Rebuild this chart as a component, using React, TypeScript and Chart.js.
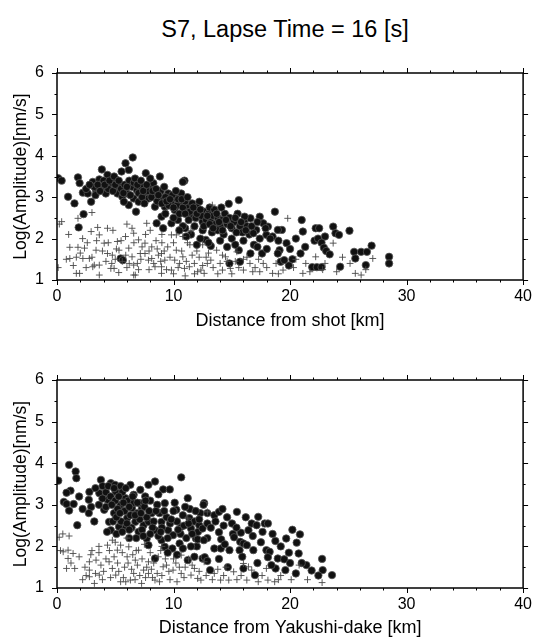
import React, { useEffect, useRef } from "react";
import { Chart, registerables } from "chart.js";

Chart.register(...registerables);

const FONT = "'Liberation Sans', Arial, Helvetica, sans-serif";

const chartTitle = "S7, Lapse Time = 16 [s]";
const yAxisTitle = "Log(Amplitude)[nm/s]";
const topXAxisTitle = "Distance from shot [km]";
const bottomXAxisTitle = "Distance from Yakushi-dake [km]";

const xRange = [0, 40];
const yRange = [1, 6];
const xMajorStep = 10;
const xMinorStep = 2;
const yMajorStep = 1;
const yMinorStep = 0.5;

// Top panel: filled circles [distance km, log amplitude]
const topCircles: [number, number][] = [
  [0.1, 3.46], [0.4, 3.4], [0.95, 3.01], [1.5, 2.85], [1.8, 3.48], [1.94, 3.34], [2.28, 2.59], [1.86, 2.27],
  [2.22, 3.11], [2.64, 3.09], [2.93, 2.89], [3.07, 3.37], [3.35, 3.17], [3.63, 3.43], [3.85, 3.67], [3.91, 3.25],
  [4.19, 3.09], [4.33, 3.54], [4.62, 3.34], [5.04, 3.43], [5.32, 3.25], [5.18, 3.09], [5.54, 3.62], [5.6, 3.01],
  [5.88, 3.82], [6.02, 3.09], [6.16, 3.66], [6.5, 3.96], [6.44, 3.25], [6.58, 2.97], [6.86, 3.17], [7.0, 2.89],
  [6.78, 2.65], [7.26, 3.25], [7.55, 3.09], [7.62, 3.58], [7.85, 2.97], [7.99, 3.29], [8.27, 3.34], [8.41, 3.09],
  [8.41, 2.77], [8.83, 3.5], [9.11, 2.97], [9.25, 2.77], [9.54, 3.09], [9.82, 2.89], [10.1, 2.69], [10.24, 2.97],
  [10.66, 2.85], [10.94, 2.65], [10.94, 3.4], [10.8, 3.37], [10.66, 3.09], [11.22, 2.77], [11.5, 2.53], [11.79, 2.69],
  [12.21, 2.89], [12.21, 2.57], [12.49, 2.41], [12.63, 2.65], [12.77, 1.97], [8.97, 2.53], [8.55, 2.37], [9.11, 2.25],
  [9.82, 2.37], [10.38, 2.45], [6.16, 2.81], [5.74, 2.89], [5.46, 1.52], [5.65, 1.48],
  [3.2, 3.25], [3.5, 3.3], [4.0, 3.4], [4.4, 3.2], [4.8, 3.15], [5.0, 3.3], [5.5, 3.2], [5.8, 3.3],
  [6.2, 3.4], [6.6, 3.35], [7.0, 3.1], [7.3, 3.0], [7.5, 2.85], [7.8, 3.15], [8.1, 3.0], [8.6, 2.9],
  [8.9, 3.15], [9.3, 3.0], [9.6, 2.8], [9.9, 3.05], [10.3, 2.8], [10.5, 2.6], [10.8, 2.75], [11.0, 2.9],
  [11.4, 2.65], [11.6, 2.85], [11.9, 2.5], [12.0, 2.75], [12.4, 2.55], [12.8, 2.45], [13.0, 2.6], [13.2, 2.4],
  [13.4, 2.55], [13.6, 2.35], [13.8, 2.5], [14.0, 2.3], [14.2, 2.45], [14.4, 2.6], [14.6, 2.35], [14.8, 2.5],
  [15.0, 2.25], [15.2, 2.4], [15.5, 2.6], [15.7, 2.3], [15.9, 2.15], [16.1, 2.45], [16.3, 2.3], [16.5, 2.1],
  [13.1, 2.75], [13.5, 2.7], [14.1, 2.75], [12.5, 2.2], [13.3, 2.15], [14.3, 2.1], [13.8, 2.2],
  [11.5, 2.1], [12.0, 1.85], [11.0, 2.25], [16.0, 1.95], [16.9, 1.85], [20.2, 1.5], [19.9, 1.35],
  [14.74, 2.84], [15.6, 2.93], [18.7, 2.65], [21.1, 2.17], [22.2, 2.25], [22.5, 2.25], [23.0, 2.05], [23.7, 2.29],
  [23.9, 2.13], [24.2, 2.09], [25.1, 2.19], [21.3, 1.8], [20.9, 1.64], [22.1, 1.95], [22.4, 2.0], [22.7, 1.9],
  [22.9, 1.78], [23.1, 1.7], [23.4, 1.62], [21.9, 1.31], [22.3, 1.31], [22.7, 1.31], [24.3, 1.32], [25.5, 1.68],
  [26.1, 1.68], [26.6, 1.68], [25.6, 1.52], [26.5, 1.36], [27.0, 1.83], [28.5, 1.56], [28.5, 1.4], [14.8, 1.4],
  [13.2, 1.82], [14.6, 1.8], [15.6, 1.72], [16.6, 1.64], [17.6, 1.64], [15.7, 1.44], [19.2, 1.44], [19.5, 1.48],
  [19.1, 1.72], [19.7, 1.89], [19.3, 2.21], [18.95, 2.21], [18.1, 2.29], [17.7, 2.37], [17.4, 2.53], [16.6, 2.49],
  [16.1, 2.53], [17.1, 2.21], [16.85, 2.13], [17.4, 2.0], [17.97, 2.09], [18.5, 2.05], [18.95, 1.64], [18.3, 2.0],
  [2.5, 3.2], [2.8, 3.3], [3.3, 3.05], [3.7, 3.15], [4.1, 3.3], [4.5, 3.4], [4.9, 3.5], [5.3, 3.4],
  [5.7, 3.1], [6.0, 3.25], [6.3, 3.05], [6.7, 3.45], [6.9, 3.3], [7.2, 3.4], [7.4, 3.15], [7.7, 3.3],
  [8.0, 3.45], [8.2, 3.15], [8.5, 3.2], [8.7, 3.05], [9.0, 2.85], [9.2, 3.25], [9.4, 2.9], [9.7, 2.95],
  [10.0, 2.75], [10.2, 3.15], [10.4, 2.95], [10.7, 2.95], [11.0, 2.6], [11.2, 3.0], [11.3, 2.45], [11.7, 2.75],
  [12.0, 2.6], [12.3, 2.7], [12.6, 2.3], [12.9, 2.55], [13.1, 2.35], [13.4, 2.25], [13.7, 2.6], [13.9, 2.4],
  [14.2, 2.2], [14.5, 2.45], [14.9, 2.3], [15.3, 2.5], [15.4, 2.15], [15.8, 2.4], [16.2, 2.2], [16.7, 2.3],
  [17.2, 2.4], [17.9, 2.25], [9.3, 2.6], [10.0, 2.5], [10.8, 2.3], [11.8, 2.3], [12.3, 2.0], [13.0, 1.9],
  [14.0, 1.95], [15.0, 2.0], [15.3, 1.85], [17.2, 1.8], [18.0, 1.75], [11.1, 2.05], [10.5, 2.2], [20.5, 2.0],
  [21.0, 2.45], [20.0, 1.75], [19.0, 1.95],
];

// Top panel: crosses
const topCrosses: [number, number][] = [
  [0.4, 2.41], [1.8, 2.49], [3.0, 2.63], [2.93, 2.17], [3.49, 2.27], [4.33, 2.25], [3.63, 2.09], [1.1, 1.79],
  [1.8, 1.79], [2.36, 1.77], [1.1, 1.52], [1.66, 1.55], [2.22, 1.52], [2.78, 1.52], [3.07, 1.32], [3.63, 1.36],
  [1.94, 1.16], [3.63, 1.12], [3.35, 1.72], [4.05, 1.89], [4.33, 1.64], [4.75, 1.6], [4.62, 1.28], [5.18, 1.93],
  [5.32, 1.72], [5.88, 2.05], [6.44, 2.25], [6.58, 2.13], [7.0, 1.97], [6.16, 1.77], [6.44, 1.56], [6.58, 1.12],
  [7.15, 1.64], [7.55, 1.89], [7.7, 2.37], [8.13, 1.8], [7.85, 1.48], [8.41, 1.32], [8.97, 1.64], [9.25, 1.48],
  [9.82, 2.09], [10.24, 2.09], [10.8, 2.05], [10.24, 1.72], [10.1, 1.48], [10.8, 1.56], [10.94, 1.28], [11.79, 1.4],
  [12.07, 1.2], [12.63, 1.16], [8.97, 1.16], [1.66, 1.16], [3.2, 1.36], [4.9, 1.28], [6.58, 1.36], [6.72, 1.12],
  [7.55, 1.64], [8.13, 1.52], [8.97, 1.32], [9.82, 1.24], [10.52, 1.4], [11.36, 1.32], [13.33, 2.81], [19.8, 2.49],
  [23.7, 1.89], [21.35, 1.4], [21.1, 1.16], [22.2, 1.56], [25.15, 1.4], [25.6, 1.16], [26.1, 1.12], [27.1, 1.52],
  [19.4, 1.24], [13.7, 1.72], [14.46, 1.56], [15.44, 1.68], [16.56, 1.4], [17.7, 1.4], [17.4, 1.2], [16.0, 1.24],
  [14.88, 1.28], [12.9, 1.4], [12.35, 1.24], [14.2, 1.24], [18.5, 1.16], [13.2, 1.48], [0.2, 2.35],
  [5.6, 1.45], [6.9, 1.4], [7.3, 1.8], [8.5, 1.95], [9.5, 1.8], [11.2, 1.9], [11.6, 1.6], [12.2, 1.55],
  [13.0, 1.65], [5.0, 1.5], [4.2, 1.45], [2.5, 1.3], [9.0, 1.9], [8.7, 1.6], [6.0, 1.3], [5.3, 1.18],
  [7.9, 1.25], [10.0, 1.15], [11.0, 1.1], [20.3, 1.3], [22.8, 1.25], [16.3, 1.55], [15.3, 1.45], [14.0, 1.4],
  [17.0, 1.3],
  [0.1, 1.3], [0.8, 1.5], [1.4, 1.35], [2.0, 1.65], [2.6, 1.9], [3.0, 1.55], [3.4, 1.95], [3.9, 1.7],
  [4.4, 1.9], [4.7, 1.4], [5.1, 1.75], [5.5, 1.95], [5.9, 1.6], [6.2, 1.4], [6.6, 1.9], [7.0, 1.25],
  [7.2, 1.5], [7.6, 2.1], [7.9, 1.7], [8.3, 1.4], [8.6, 1.75], [8.9, 1.45], [9.2, 1.7], [9.4, 1.25],
  [9.7, 1.55], [10.0, 1.9], [10.4, 1.3], [10.7, 1.7], [11.1, 1.45], [11.4, 1.85], [11.8, 1.15], [12.0, 1.7],
  [12.5, 1.35], [12.8, 1.55], [13.4, 1.3], [13.8, 1.15], [14.2, 1.6], [14.6, 1.45], [15.0, 1.15], [15.6, 1.3],
  [16.0, 1.5], [16.8, 1.2], [17.3, 1.5], [18.0, 1.3], [18.8, 1.4], [19.0, 1.15], [20.5, 1.5], [21.7, 1.2],
  [23.0, 1.4], [24.0, 1.2], [24.5, 1.55], [26.5, 1.25], [2.2, 2.0], [1.0, 2.1], [4.8, 2.2], [6.0, 2.35],
  [8.0, 2.2], [9.0, 2.1], [11.5, 2.2], [12.5, 1.85],
];

// Bottom panel: filled circles
const bottomCircles: [number, number][] = [
  [0.11, 3.58], [1.04, 3.96], [1.6, 3.8], [1.66, 3.64], [1.16, 3.34], [0.82, 3.29], [0.59, 3.07], [0.82, 3.02],
  [1.43, 3.02], [1.04, 2.86], [1.74, 2.51], [2.78, 3.31], [2.73, 3.12], [2.93, 2.95], [2.73, 2.8], [3.77, 3.6],
  [3.91, 3.45], [4.62, 3.52], [4.98, 3.48], [5.46, 3.45], [6.3, 3.48], [7.15, 3.36], [7.85, 3.48], [8.41, 3.56],
  [9.11, 3.37], [9.68, 3.37], [10.66, 3.66], [11.22, 3.16], [11.36, 2.68], [12.63, 3.04], [10.24, 2.88], [9.25, 3.04],
  [3.63, 3.28], [4.33, 3.12], [4.05, 2.88], [4.9, 2.8], [4.47, 2.59], [5.32, 2.47], [4.62, 2.39], [5.46, 3.0],
  [5.88, 3.16], [6.44, 2.92], [6.02, 2.68], [6.72, 2.59], [7.28, 2.92], [7.0, 2.35], [7.43, 2.51], [7.85, 2.59],
  [8.13, 2.8], [8.41, 2.39], [7.7, 2.19], [8.97, 2.59], [8.97, 2.15], [9.54, 2.39], [9.96, 2.27], [10.66, 2.47],
  [11.5, 2.43], [11.92, 2.19], [11.79, 1.75], [12.49, 1.71], [11.22, 1.67], [8.41, 1.71], [9.25, 1.99], [10.52, 2.07],
  [7.85, 2.03], [7.15, 3.04], [6.58, 3.24], [7.57, 3.2], [5.04, 3.31],
  [4.2, 3.3], [4.6, 3.2], [5.0, 3.1], [5.2, 2.9], [5.6, 3.3], [5.8, 2.85], [6.1, 3.1], [6.3, 2.75],
  [6.6, 3.05], [6.9, 2.8], [7.1, 2.65], [7.5, 2.95], [7.7, 2.7], [8.0, 3.1], [8.3, 2.6], [8.6, 3.0],
  [8.8, 2.8], [9.0, 2.45], [9.4, 2.7], [9.7, 2.55], [10.0, 2.85], [10.3, 2.6], [10.6, 2.3], [10.9, 2.5],
  [11.1, 2.2], [11.4, 2.9], [11.8, 2.6], [12.1, 2.35], [12.3, 2.8], [5.5, 2.6], [5.9, 2.45], [6.4, 2.45],
  [6.8, 2.2], [4.8, 2.6], [5.1, 2.3], [6.2, 2.2], [7.3, 2.4], [8.7, 2.25], [9.9, 1.95], [10.3, 1.8],
  [12.9, 2.2], [12.0, 2.0],
  [12.57, 3.0], [12.9, 2.8], [13.5, 2.75], [13.9, 2.83], [15.44, 2.83], [12.2, 2.51], [12.49, 2.43], [12.9, 2.55],
  [15.02, 2.55], [17.27, 2.71], [16.71, 2.55], [17.13, 2.51], [17.83, 2.55], [18.1, 2.55], [16.43, 2.39], [15.78, 2.33],
  [13.9, 2.34], [15.1, 2.3], [15.2, 2.22], [17.64, 2.35], [18.74, 2.13], [19.67, 2.19], [20.85, 2.29], [20.57, 2.09],
  [20.74, 1.83], [14.09, 2.17], [15.72, 2.11], [16.0, 2.07], [16.29, 2.03], [15.67, 1.91], [16.85, 1.91], [13.5, 1.95],
  [14.06, 1.95], [14.8, 1.91], [12.07, 2.17], [12.68, 1.74], [17.97, 1.91], [18.25, 1.87], [18.1, 1.74], [18.95, 1.71],
  [19.5, 1.69], [18.76, 1.47], [19.6, 1.43], [21.4, 1.55], [21.85, 1.42], [22.8, 1.43], [22.75, 1.7], [22.43, 1.3],
  [20.5, 1.35], [23.6, 1.31], [13.14, 1.43], [14.66, 1.5], [16.99, 1.31], [16.0, 1.47],
  [3.3, 3.4], [3.6, 3.0], [3.9, 3.15], [4.2, 2.95], [4.4, 3.45], [4.7, 3.0], [4.9, 3.4], [5.1, 2.7],
  [5.3, 3.2], [5.4, 2.8], [5.7, 3.05], [5.9, 3.4], [6.0, 2.55], [6.2, 2.95], [6.5, 3.2], [6.7, 2.75],
  [6.9, 3.05], [7.2, 2.8], [7.4, 2.25], [7.6, 3.1], [7.9, 2.85], [8.2, 2.45], [8.5, 2.85], [8.7, 3.25],
  [8.9, 2.35], [9.2, 2.85], [9.5, 2.2], [9.8, 2.65], [10.1, 3.05], [10.4, 2.4], [10.8, 2.75], [11.0, 2.95],
  [11.3, 2.55], [11.6, 2.3], [11.9, 2.85], [12.2, 2.65], [12.6, 2.15], [13.2, 2.45], [13.6, 2.6], [14.3, 2.5],
  [14.6, 2.7], [14.2, 2.9], [15.4, 2.45], [16.2, 2.7], [16.8, 2.25], [17.5, 2.1], [18.5, 2.3], [19.2, 2.0],
  [19.9, 1.85], [20.2, 2.4], [21.0, 1.6], [6.2, 2.4], [5.6, 2.35], [4.3, 2.35], [8.0, 2.3], [9.5, 1.85],
  [10.8, 1.95], [11.5, 2.0], [12.9, 1.65], [13.9, 1.7], [14.4, 2.05], [15.9, 1.75], [17.2, 1.6], [18.4, 1.55],
  [20.0, 1.6], [1.9, 3.2], [2.2, 2.9], [3.2, 2.6],
];

// Bottom panel: crosses
const bottomCrosses: [number, number][] = [
  [0.19, 2.22], [1.04, 2.25], [0.53, 1.87], [0.95, 1.91], [1.38, 1.83], [0.95, 1.71], [0.82, 1.47], [1.52, 1.47],
  [2.78, 1.63], [2.78, 1.43], [2.78, 1.27], [3.35, 1.67], [3.77, 1.55], [3.63, 1.31], [3.21, 1.11], [4.33, 2.03],
  [4.75, 2.15], [5.18, 1.91], [5.46, 2.03], [6.16, 1.99], [6.02, 1.75], [6.72, 1.67], [4.47, 1.63], [4.75, 1.47],
  [5.04, 1.31], [5.46, 1.15], [6.3, 1.19], [6.58, 1.35], [7.43, 1.43], [7.85, 1.35], [8.41, 1.19], [9.11, 1.51],
  [9.4, 1.55], [9.96, 1.43], [10.66, 1.35], [11.22, 2.68], [11.5, 1.31], [12.07, 1.23], [7.0, 1.91], [7.85, 1.63],
  [8.69, 1.75], [10.66, 1.79], [11.79, 1.47], [7.26, 1.11], [12.9, 2.83], [12.63, 1.63], [12.35, 1.19], [13.33, 1.2],
  [14.04, 1.19], [14.74, 1.19], [15.44, 1.2], [16.29, 1.19], [16.0, 1.59], [16.43, 1.51], [16.71, 1.43], [15.16, 1.39],
  [18.1, 1.19], [18.68, 1.15], [17.97, 1.47], [20.78, 1.55], [22.75, 1.13], [17.27, 1.15],
  [5.8, 1.5], [6.5, 1.8], [7.6, 1.25], [8.1, 1.45], [9.0, 1.3], [9.7, 1.2], [10.2, 1.6], [11.0, 1.5],
  [5.2, 1.6], [4.0, 1.4], [3.0, 1.9], [2.2, 1.2], [8.9, 1.9], [10.3, 1.15], [11.3, 1.7], [13.8, 1.45],
  [14.3, 1.3], [19.2, 1.3], [20.1, 1.2], [5.7, 1.25], [6.9, 1.55], [0.3, 1.9],
  [0.5, 2.3], [1.2, 1.6], [1.9, 1.75], [2.4, 1.5], [2.9, 1.8], [3.3, 1.35], [3.6, 1.85], [3.9, 1.2],
  [4.2, 1.7], [4.5, 1.9], [4.9, 1.75], [5.0, 2.1], [5.3, 1.4], [5.6, 1.85], [5.9, 1.15], [6.1, 1.6],
  [6.4, 1.45], [6.8, 1.9], [7.1, 1.3], [7.3, 1.7], [7.7, 1.5], [8.0, 1.85], [8.3, 1.6], [8.6, 1.35],
  [8.8, 1.15], [9.3, 1.7], [9.6, 1.4], [10.0, 1.7], [10.5, 1.5], [10.9, 1.25], [11.6, 1.55], [12.2, 1.4],
  [12.8, 1.3], [13.5, 1.35], [14.5, 1.5], [15.8, 1.3], [17.6, 1.3], [19.0, 1.2], [21.5, 1.2], [6.0, 2.2],
  [7.5, 2.05], [9.0, 2.0], [3.6, 2.0], [2.5, 1.3], [4.6, 1.25], [6.7, 1.2], [8.2, 1.25],
];

const framePlugin = {
  id: "gmtFrame",
  afterDatasetsDraw(chart: any) {
    const { ctx, chartArea: a, scales } = chart;
    const xs = scales.x;
    const ys = scales.y;
    ctx.save();
    ctx.strokeStyle = "#000";
    ctx.lineWidth = 1;
    const seg = (x1: number, y1: number, x2: number, y2: number) => {
      ctx.beginPath();
      ctx.moveTo(x1, y1);
      ctx.lineTo(x2, y2);
      ctx.stroke();
    };
    const nx = Math.round((xRange[1] - xRange[0]) / xMinorStep);
    for (let i = 0; i <= nx; i++) {
      const v = xRange[0] + i * xMinorStep;
      const px = Math.round(xs.getPixelForValue(v)) + 0.5;
      const len = Math.abs(v % xMajorStep) < 1e-6 ? 5 : 2.5;
      seg(px, a.bottom, px, a.bottom + len);
      seg(px, a.top, px, a.top - len);
    }
    const ny = Math.round((yRange[1] - yRange[0]) / yMinorStep);
    for (let i = 0; i <= ny; i++) {
      const v = yRange[0] + i * yMinorStep;
      const py = Math.round(ys.getPixelForValue(v)) + 0.5;
      const len = Math.abs(v % yMajorStep) < 1e-6 ? 5 : 2.5;
      seg(a.left, py, a.left - len, py);
      seg(a.right, py, a.right + len, py);
    }
    ctx.lineWidth = 1.5;
    ctx.strokeRect(a.left, a.top, a.right - a.left, a.bottom - a.top);
    ctx.restore();
  },
};

type PanelProps = {
  circles: [number, number][];
  crosses: [number, number][];
  xTitle: string;
  top: number;
  height: number;
  padTop: number;
  xAxisHeight: number;
  xTitlePadBottom: number;
};

function Panel(props: PanelProps) {
  const ref = useRef<HTMLCanvasElement | null>(null);
  useEffect(() => {
    if (!ref.current) return;
    const chart = new Chart(ref.current, {
      type: "scatter",
      data: {
        datasets: [
          {
            label: "crosses",
            data: props.crosses.map(([x, y]) => ({ x, y })),
            pointStyle: "cross",
            radius: 3.4,
            borderColor: "#4a4a4a",
            borderWidth: 0.9,
            backgroundColor: "#4a4a4a",
          },
          {
            label: "circles",
            data: props.circles.map(([x, y]) => ({ x, y })),
            pointStyle: "circle",
            radius: 3.7,
            backgroundColor: "#111",
            borderColor: "#555",
            borderWidth: 0.8,
          },
        ],
      },
      options: {
        animation: false,
        responsive: false,
        maintainAspectRatio: false,
        layout: { padding: { top: props.padTop, right: 8, left: 0, bottom: 0 } },
        plugins: { legend: { display: false }, tooltip: { enabled: false }, title: { display: false } },
        scales: {
          x: {
            type: "linear",
            min: xRange[0],
            max: xRange[1],
            afterFit: (s: any) => {
              s.height = props.xAxisHeight;
            },
            ticks: { stepSize: xMajorStep, color: "#000", padding: 7, font: { family: FONT, size: 16 } },
            grid: { display: false, drawTicks: false },
            border: { display: false },
            title: {
              display: true,
              text: props.xTitle,
              color: "#000",
              font: { family: FONT, size: 18 },
              padding: { top: 0, bottom: props.xTitlePadBottom },
            },
          },
          y: {
            type: "linear",
            min: yRange[0],
            max: yRange[1],
            afterFit: (s: any) => {
              s.width = 57;
            },
            ticks: { stepSize: yMajorStep, color: "#000", padding: 13, font: { family: FONT, size: 16 } },
            grid: { display: false, drawTicks: false },
            border: { display: false },
            title: {
              display: true,
              text: yAxisTitle,
              color: "#000",
              font: { family: FONT, size: 17.5 },
              padding: { top: 11, bottom: 0 },
            },
          },
        },
      },
      plugins: [framePlugin],
    } as any);
    return () => chart.destroy();
  }, []);
  return (
    <canvas
      ref={ref}
      width={539}
      height={props.height}
      style={{ position: "absolute", left: 0, top: props.top, width: 539, height: props.height, display: "block" }}
    />
  );
}

export default function App() {
  return (
    <div style={{ position: "absolute", left: 0, top: 0, width: 539, height: 641, background: "#fff", overflow: "hidden" }}>
      <div
        style={{
          position: "absolute",
          top: 16,
          left: 0,
          width: 570,
          textAlign: "center",
          fontFamily: FONT,
          fontSize: 23.5,
          lineHeight: "26px",
          color: "#000",
          whiteSpace: "nowrap",
        }}
      >
        {chartTitle}
      </div>
      <Panel circles={topCircles} crosses={topCrosses} xTitle={topXAxisTitle} top={0} height={335} padTop={73} xAxisHeight={55} xTitlePadBottom={3} />
      <Panel circles={bottomCircles} crosses={bottomCrosses} xTitle={bottomXAxisTitle} top={335} height={306} padTop={45} xAxisHeight={53} xTitlePadBottom={2} />
    </div>
  );
}
